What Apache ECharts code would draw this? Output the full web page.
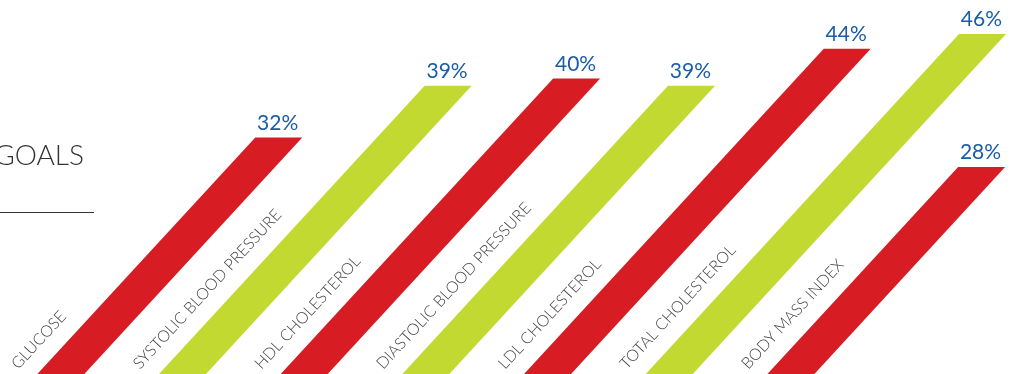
<!DOCTYPE html>
<html>
<head>
<meta charset="utf-8">
<style>
html,body{margin:0;padding:0;background:#fff;}
#chart{width:1027px;height:374px;}
</style>
<script src="https://cdn.jsdelivr.net/npm/echarts@6/dist/echarts.min.js"></script>
</head>
<body>
<div id="chart"></div>
<script>
var categories = ['GLUCOSE', 'SYSTOLIC BLOOD PRESSURE', 'HDL CHOLESTEROL', 'DIASTOLIC BLOOD PRESSURE', 'LDL CHOLESTEROL', 'TOTAL CHOLESTEROL', 'BODY MASS INDEX'];
var values = [32, 39, 40, 39, 44, 46, 28];
var valueLabels = ['32%', '39%', '40%', '39%', '44%', '46%', '28%'];
var barColors = ['#D71C24', '#C2D932', '#D71C24', '#C2D932', '#D71C24', '#C2D932', '#D71C24'];

var SLOPE = 1.085;          // bar lean (dy/dx)
var ANGLE = Math.atan(SLOPE);
var BAR_W = 47;
var FONT = 'Lato, "Open Sans", sans-serif';

var chart = echarts.init(document.getElementById('chart'), null, {renderer: 'canvas'});

var data = values.map(function (v, i) { return [i, v]; });

chart.setOption({
  animation: false,
  backgroundColor: '#ffffff',
  grid: {left: -5.75, width: 857.5, top: 4.5, height: 369.5},
  xAxis: {type: 'value', min: -0.5, max: 6.5, show: false},
  yAxis: {type: 'value', min: 0, max: 50, show: false},
  graphic: [
    {type: 'text', x: 84, y: 156, style: {text: 'GOALS', fill: '#333', font: '300 28px ' + FONT, align: 'right', verticalAlign: 'middle'}},
    {type: 'line', shape: {x1: 0, y1: 212.5, x2: 94, y2: 212.5}, style: {stroke: '#333', lineWidth: 1}}
  ],
  series: [{
    type: 'custom',
    clip: false,
    data: data,
    renderItem: function (params, api) {
      var i = api.value(0);
      var v = api.value(1);
      var base = api.coord([i, 0]);
      var top = api.coord([i, v]);
      var dy = base[1] - top[1];
      var dx = dy / SLOPE;
      var bl = base[0] - BAR_W / 2;
      var pts = [
        [bl, base[1]],
        [bl + BAR_W, base[1]],
        [bl + BAR_W + dx, top[1]],
        [bl + dx, top[1]]
      ];
      return {
        type: 'group',
        children: [
          {type: 'polygon', shape: {points: pts}, style: {fill: barColors[i]}},
          {type: 'text', x: bl + BAR_W + dx - 4, y: top[1] - 4,
            style: {text: valueLabels[i], fill: '#1A5CA6', font: '400 21px ' + FONT, align: 'right', verticalAlign: 'bottom'}},
          {type: 'text', x: bl - 17, y: base[1] - 2, rotation: ANGLE,
            style: {text: categories[i], fill: '#444', font: '300 16px ' + FONT, align: 'left', verticalAlign: 'bottom'}}
        ]
      };
    }
  }]
});
</script>
</body>
</html>
